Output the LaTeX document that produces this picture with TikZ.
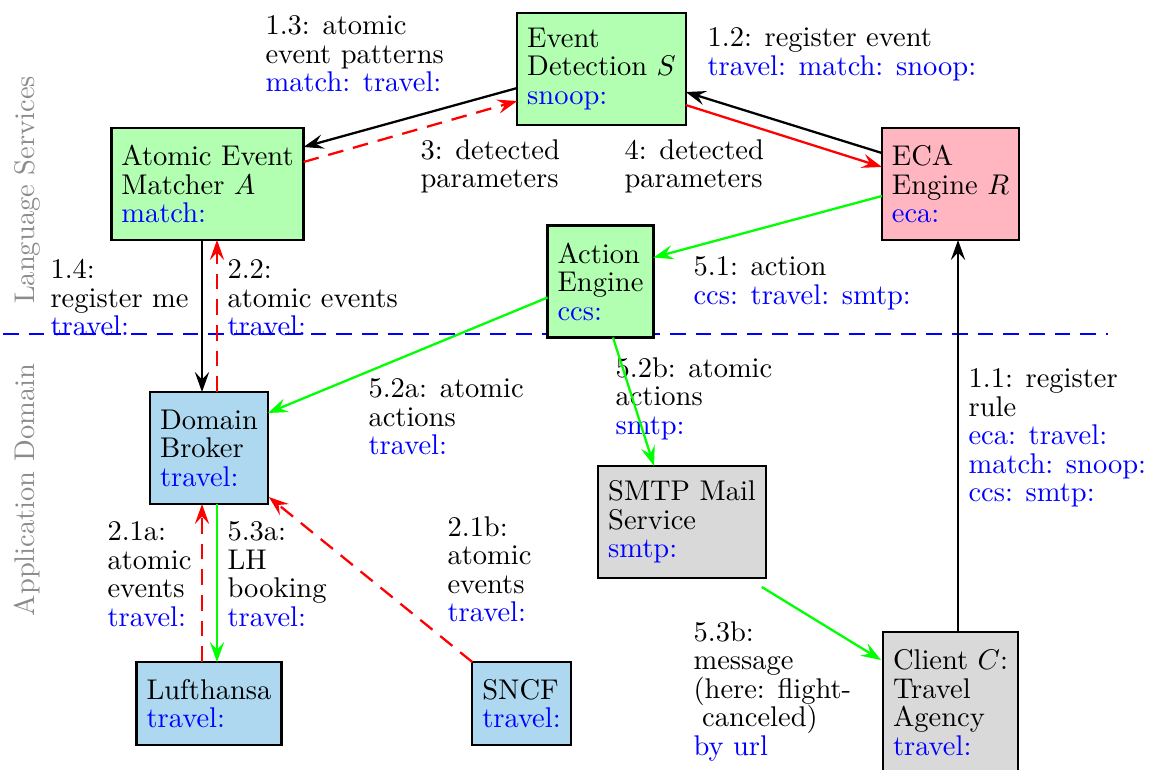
\documentclass[tikz,border=0pt]{standalone}
\usetikzlibrary{arrows.meta,calc}

\definecolor{engpink}{RGB}{255,182,193}
\definecolor{domblue}{RGB}{173,216,240}
\newcommand\nsp[1]{\textcolor{blue}{#1}}

\tikzset{
  txt/.style={font=\fontsize{10}{10}\selectfont},
  box/.style={txt, draw, line width=0.8pt, align=left, inner xsep=3.5pt,
    inner ysep=0pt, outer sep=0pt},
  two/.style={minimum height=29.1pt},
  three/.style={minimum height=39.3pt},
  four/.style={minimum height=49.5pt},
  svc/.style={box, fill=green!30},
  eng/.style={box, fill=engpink},
  dom/.style={box, fill=domblue},
  ext/.style={box, fill=gray!30},
  lbl/.style={txt, align=left, inner sep=0pt, anchor=north west},
  layer/.style={txt, text=black!45, rotate=90, inner sep=0pt},
  flow/.style={-{Stealth[length=7pt,width=5pt,inset=2.6pt]}, line width=0.8pt},
  dsh/.style={dash pattern=on 5.5pt off 3.5pt},
}

\begin{document}
\begin{tikzpicture}[x=0.3509pt, y=-0.3509pt]
\useasboundingbox (0,0) rectangle (1151,769);

% layer separator and layer names
\coordinate (sepL) at (3,334);
\coordinate (sepR) at (1108,334);
\draw[blue, line width=0.8pt, dsh] (sepL) -- (sepR);
\node[layer] (lang) at (27,190) {Language Services};
\node[layer] (appd) at (27,490) {Application Domain};

% components
\node[svc, three] (ed)   at (601.5,69)  {Event\\Detection $S$\\\nsp{snoop:}};
\node[svc, three] (am)   at (207.5,184) {Atomic Event\\Matcher $A$\\\nsp{match:}};
\node[eng, three] (eca)  at (950.5,184) {ECA\\Engine $R$\\\nsp{eca:}};
\node[svc, three] (ae)   at (600.5,281.5) {Action\\Engine\\\nsp{ccs:}};
\node[dom, three] (db)   at (209,448)   {Domain\\Broker\\\nsp{travel:}};
\node[dom, two]   (lh)   at (209,703.5) {Lufthansa\\\nsp{travel:}};
\node[dom, two]   (sncf) at (521.5,703.5) {SNCF\\\nsp{travel:}};
\node[ext, three] (smtp) at (682,522)   {SMTP Mail\\Service\\\nsp{smtp:}};
\node[ext, four]  (cl)   at (950.5,702.5) {Client $C$:\\Travel\\Agency\\\nsp{travel:}};

% message labels
\node[lbl] (t13)  at (265,15)  {1.3: atomic\\event patterns\\\nsp{match: travel:}};
\node[lbl] (t12)  at (707,27)  {1.2: register event\\\nsp{travel: match: snoop:}};
\node[lbl] (t3)   at (420,139) {3: detected\\parameters};
\node[lbl] (t4)   at (624,139) {4: detected\\parameters};
\node[lbl] (t14)  at (50,259)  {1.4:\\register me\\\nsp{travel:}};
\node[lbl] (t22)  at (227,259) {2.2:\\atomic events\\\nsp{travel:}};
\node[lbl] (t51)  at (693,256) {5.1: action\\\nsp{ccs: travel: smtp:}};
\node[lbl] (t52a) at (368,378) {5.2a: atomic\\actions\\\nsp{travel:}};
\node[lbl] (t52b) at (615,357) {5.2b: atomic\\actions\\\nsp{smtp:}};
\node[lbl] (t11)  at (968,368) {1.1: register\\rule\\\nsp{eca: travel:}\\\nsp{match: snoop:}\\\nsp{ccs: smtp:}};
\node[lbl] (t21a) at (107,521) {2.1a:\\atomic\\events\\\nsp{travel:}};
\node[lbl] (t53a) at (227,521) {5.3a:\\LH\\booking\\\nsp{travel:}};
\node[lbl] (t21b) at (447,516) {2.1b:\\atomic\\events\\\nsp{travel:}};
\node[lbl] (t53b) at (693,621) {5.3b:\\message\\(here: flight-\\\hspace*{3pt}canceled)\\\nsp{by url}};

% connectors between the language services
\draw[flow] ($(ed.west)+(0,19)$) -- ($(am.east)+(0,-37)$);
\draw[flow, red, dsh] ($(am.east)+(0,-22)$) -- ($(ed.west)+(0,32)$);
\draw[flow] ($(eca.west)+(0,-31)$) -- ($(ed.east)+(0,23)$);
\draw[flow, red] ($(ed.east)+(0,36)$) -- ($(eca.west)+(0,-17)$);
\draw[flow, green] ($(eca.west)+(0,12)$) -- ($(ae.east)+(0,-24)$);

% connectors into the application domain
\draw[flow, green] ($(ae.west)+(0,16)$) -- ($(db.east)+(0,-35)$);
\draw[flow, green] ($(ae.south)+(12.5,0)$) -- ($(smtp.north)+(-28,0)$);
\coordinate (smtpout) at ($(smtp.south east)+(-4,9)$);
\draw[flow, green] (smtpout) -- ($(cl.west)+(-2,-42.5)$);

\coordinate (dbl) at ($(db.north)+(-7,0)$);
\coordinate (dbr) at ($(db.north)+(8,0)$);
\draw[flow] (am.south -| dbl) -- (dbl);
\draw[flow, red, dsh] (dbr) -- (am.south -| dbr);

\coordinate (lhl) at ($(lh.north)+(-7,0)$);
\coordinate (lhr) at ($(lh.north)+(8,0)$);
\draw[flow, red, dsh] (lhl) -- (db.south -| lhl);
\draw[flow, green] (db.south -| lhr) -- (lhr);

\draw[flow, red, dsh] (sncf.north west) -- ($(db.south east)+(1,-7)$);

\coordinate (clup) at ($(cl.north)+(7.5,0)$);
\draw[flow] (clup) -- (eca.south -| clup);
\end{tikzpicture}
\end{document}
